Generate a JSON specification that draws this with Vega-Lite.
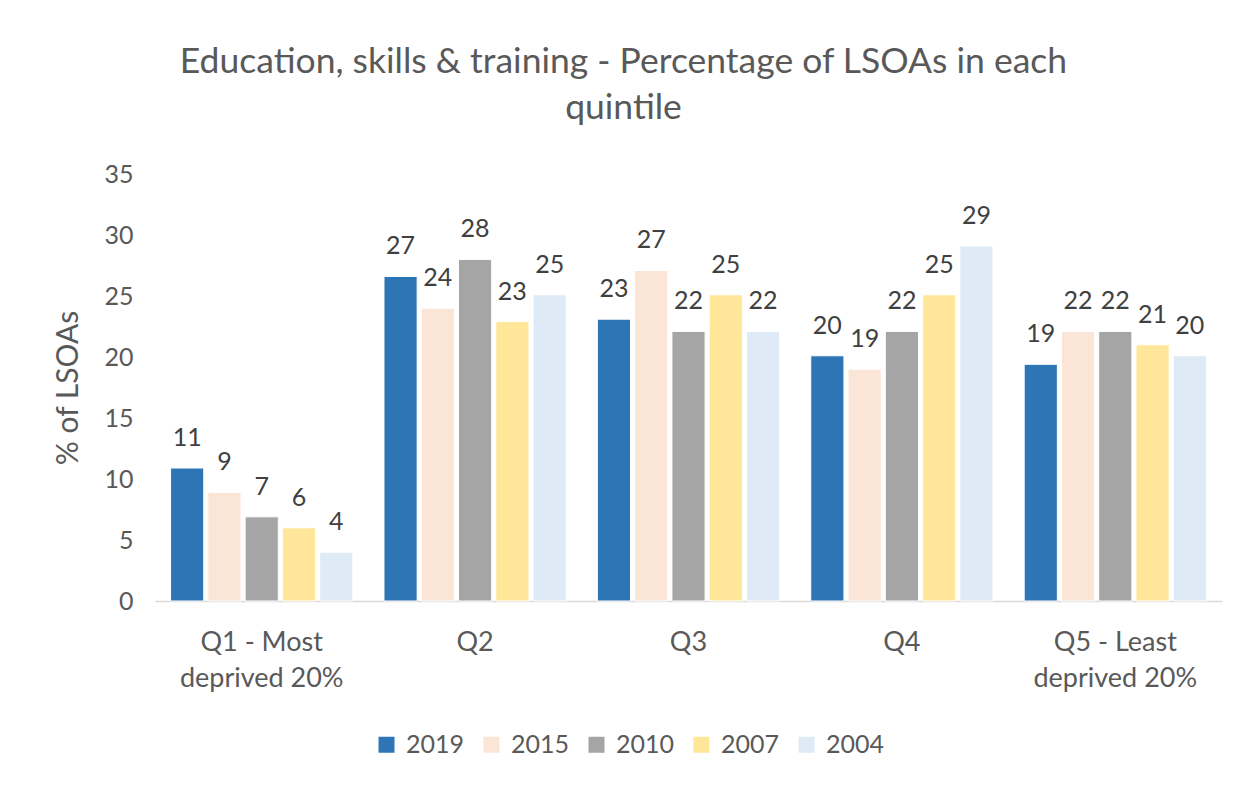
{
  "$schema": "https://vega.github.io/schema/vega-lite/v6.json",
  "width": 1067,
  "height": 427,
  "autosize": {"type": "none"},
  "padding": {"left": 155, "top": 174, "right": 17, "bottom": 188},
  "background": "white",
  "title": {
    "text": ["Education, skills & training - Percentage of LSOAs in each", "quintile"],
    "font": "Lato",
    "fontSize": 35.5,
    "fontWeight": "normal",
    "color": "#595959",
    "lineHeight": 46,
    "anchor": "middle",
    "dx": -65,
    "offset": 36
  },
  "data": {
    "values": [
      {"quintile": "Q1 - Most deprived 20%", "year": "2019", "pct": 10.9},
      {"quintile": "Q1 - Most deprived 20%", "year": "2015", "pct": 8.9},
      {"quintile": "Q1 - Most deprived 20%", "year": "2010", "pct": 6.9},
      {"quintile": "Q1 - Most deprived 20%", "year": "2007", "pct": 6.0},
      {"quintile": "Q1 - Most deprived 20%", "year": "2004", "pct": 4.0},
      {"quintile": "Q2", "year": "2019", "pct": 26.6},
      {"quintile": "Q2", "year": "2015", "pct": 24.0},
      {"quintile": "Q2", "year": "2010", "pct": 28.0},
      {"quintile": "Q2", "year": "2007", "pct": 22.9},
      {"quintile": "Q2", "year": "2004", "pct": 25.1},
      {"quintile": "Q3", "year": "2019", "pct": 23.1},
      {"quintile": "Q3", "year": "2015", "pct": 27.1},
      {"quintile": "Q3", "year": "2010", "pct": 22.1},
      {"quintile": "Q3", "year": "2007", "pct": 25.1},
      {"quintile": "Q3", "year": "2004", "pct": 22.1},
      {"quintile": "Q4", "year": "2019", "pct": 20.1},
      {"quintile": "Q4", "year": "2015", "pct": 19.0},
      {"quintile": "Q4", "year": "2010", "pct": 22.1},
      {"quintile": "Q4", "year": "2007", "pct": 25.1},
      {"quintile": "Q4", "year": "2004", "pct": 29.1},
      {"quintile": "Q5 - Least deprived 20%", "year": "2019", "pct": 19.4},
      {"quintile": "Q5 - Least deprived 20%", "year": "2015", "pct": 22.1},
      {"quintile": "Q5 - Least deprived 20%", "year": "2010", "pct": 22.1},
      {"quintile": "Q5 - Least deprived 20%", "year": "2007", "pct": 21.0},
      {"quintile": "Q5 - Least deprived 20%", "year": "2004", "pct": 20.1}
    ]
  },
  "encoding": {
    "x": {
      "field": "quintile",
      "type": "nominal",
      "sort": null,
      "scale": {"paddingInner": 0.146, "paddingOuter": 0.073},
      "axis": {
        "title": null,
        "labelAngle": 0,
        "labelFont": "Lato",
        "labelFontSize": 27,
        "labelColor": "#595959",
        "labelPadding": 49,
        "labelLineHeight": 36,
        "labelBaseline": "alphabetic",
        "ticks": false,
        "domainColor": "#D9D9D9",
        "domainWidth": 1.5,
        "labelExpr": "indexof(datum.label, ' deprived') > 0 ? [replace(datum.label, ' deprived 20%', ''), 'deprived 20%'] : datum.label"
      }
    },
    "xOffset": {
      "field": "year",
      "type": "nominal",
      "sort": ["2019", "2015", "2010", "2007", "2004"],
      "scale": {"paddingInner": 0.11}
    },
    "y": {
      "field": "pct",
      "type": "quantitative",
      "scale": {"domain": [0, 35]},
      "axis": {
        "title": "% of LSOAs",
        "titleFont": "Lato",
        "titleFontSize": 30,
        "titleFontWeight": "normal",
        "titleColor": "#595959",
        "titlePadding": 20,
        "values": [0, 5, 10, 15, 20, 25, 30, 35],
        "labelFont": "Lato",
        "labelFontSize": 25,
        "labelColor": "#595959",
        "labelPadding": 22,
        "domain": false,
        "ticks": false,
        "grid": false
      }
    }
  },
  "layer": [
    {
      "mark": {"type": "bar", "stroke": "white", "strokeWidth": 1},
      "encoding": {
        "color": {
          "field": "year",
          "type": "nominal",
          "sort": ["2019", "2015", "2010", "2007", "2004"],
          "scale": {
            "domain": ["2019", "2015", "2010", "2007", "2004"],
            "range": ["#2E75B6", "#FBE5D6", "#A5A5A5", "#FFE699", "#DEEBF7"]
          },
          "legend": {
            "title": null,
            "orient": "none",
            "direction": "horizontal",
            "legendX": 219,
            "legendY": 558,
            "symbolType": "square",
            "symbolSize": 256,
            "symbolStrokeWidth": 0,
            "labelFont": "Lato",
            "labelFontSize": 25,
            "labelColor": "#595959",
            "labelOffset": 7,
            "columnPadding": 14,
            "symbolOffset": 0
          }
        }
      }
    },
    {
      "mark": {"type": "text", "baseline": "alphabetic", "dy": -22, "font": "Lato", "fontSize": 25, "color": "#404040"},
      "encoding": {
        "text": {"field": "pct", "type": "quantitative", "format": ".0f"}
      }
    }
  ],
  "config": {
    "view": {"stroke": null}
  }
}
